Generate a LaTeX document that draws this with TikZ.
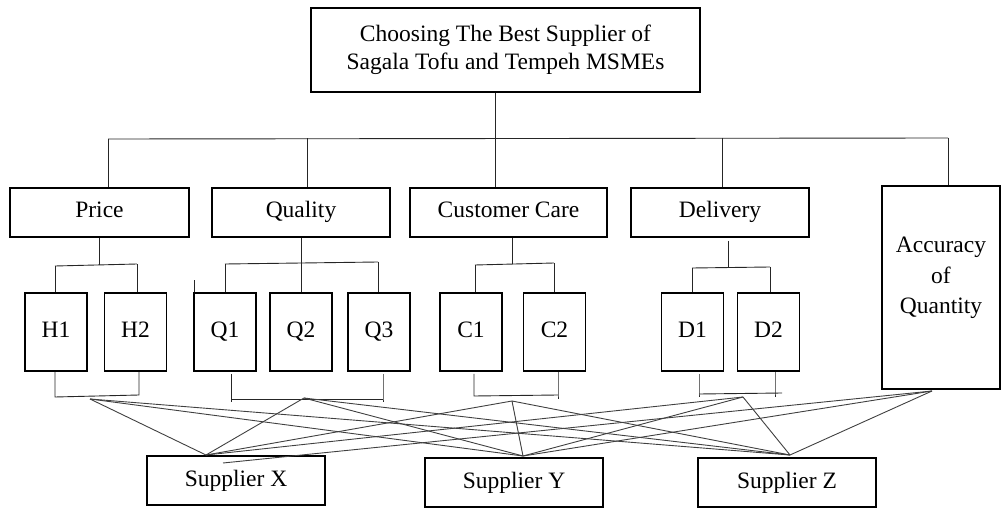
\documentclass[tikz,border=0pt]{standalone}
\usepackage{fontspec}
\setmainfont{Liberation Serif}
\begin{document}
\begin{tikzpicture}[x=1pt,y=-1pt,
  box/.style={draw, line width=1.5pt, inner sep=0pt, font=\fontsize{23.5}{28}\selectfont},
  crit/.style={box, minimum height=49pt, text height=16pt, text depth=5pt},
  sub/.style={box, minimum width=62pt, minimum height=78pt, text height=16pt, text depth=5pt},
  wire/.style={line width=0.9pt, draw=black!85},
  link/.style={line width=0.9pt, draw=black!75}]
\useasboundingbox (0,0) rectangle (1002,508);

% goal
\node[box, align=center, minimum width=389pt, minimum height=84pt] (goal) at (505.5,50) {Choosing The Best Supplier of\\Sagala Tofu and Tempeh MSMEs};

% criteria
\node[crit, minimum width=179pt] (price) at (99.5,212.5) {Price};
\node[crit, minimum width=178pt] (quality) at (301,212.5) {Quality};
\node[crit, minimum width=197pt] (care) at (508.5,212.5) {Customer Care};
\node[crit, minimum width=178pt] (delivery) at (720,212.5) {Delivery};
\node[box, minimum width=118pt, minimum height=203pt] (accuracy) at (941,287.5) {};
\node[font=\fontsize{23.5}{30.5}\selectfont, align=center, inner sep=0pt] (acctext) at (941,278) {Accuracy\\of\\Quantity};

% sub-criteria
\node[sub] (h1) at (56,332) {H1};
\node[sub] (h2) at (135.5,332) {H2};
\node[sub] (q1) at (225,332) {Q1};
\node[sub] (q2) at (301,332) {Q2};
\node[sub] (q3) at (379,332) {Q3};
\node[sub] (c1) at (471,332) {C1};
\node[sub] (c2) at (554.5,332) {C2};
\node[sub] (d1) at (692.5,332) {D1};
\node[sub] (d2) at (768.5,332) {D2};

% alternatives
\node[crit, minimum width=178pt] (sx) at (236,480.5) {Supplier X};
\node[crit, minimum width=178pt] (sy) at (514,482.5) {Supplier Y};
\node[crit, minimum width=178pt] (sz) at (787,482.5) {Supplier Z};

% goal to criteria
\coordinate (bus) at (495,138);
\coordinate (busL) at (108,139);
\coordinate (busR) at (948,138);
\coordinate (pq) at (307,138.5);
\coordinate (pd) at (722,138);
\draw[wire] (goal.south -| bus) -- (bus);
\draw[wire] (busL) -- (busR);
\draw[wire] (busL) -- (busL |- price.north);
\draw[wire] (pq) -- (pq |- quality.north);
\draw[wire] (bus) -- (bus |- care.north);
\draw[wire] (pd) -- (pd |- delivery.north);
\draw[wire] (busR) -- (busR |- accuracy.north);

% criteria to sub-criteria
\coordinate (hb) at (99,265);
\coordinate (hbL) at (55,266);
\coordinate (hbR) at (137,264);
\draw[wire] (hb |- price.south) -- (hb);
\draw[wire] (hbL) -- (hbR);
\draw[wire] (hbL) -- (hbL |- h1.north);
\draw[wire] (hbR) -- (hbR |- h2.north);

\coordinate (qb) at (301,264);
\coordinate (qbL) at (225,264);
\coordinate (qbR) at (378,262);
\draw[wire] (qb |- quality.south) -- (qb |- q2.north);
\draw[wire] (qbL) -- (qbR);
\draw[wire] (qbL) -- (qbL |- q1.north);
\draw[wire] (qbR) -- (qbR |- q3.north);
\coordinate (qtick) at (194,280);
\draw[wire] (qtick) -- (qtick |- q1.north);

\coordinate (cb) at (512,264);
\coordinate (cbL) at (475,265);
\coordinate (cbR) at (554,263);
\draw[wire] (cb |- care.south) -- (cb);
\draw[wire] (cbL) -- (cbR);
\draw[wire] (cbL) -- (cbL |- c1.north);
\draw[wire] (cbR) -- (cbR |- c2.north);

\coordinate (db) at (728,268);
\coordinate (dbL) at (692,268);
\coordinate (dbR) at (770,267);
\draw[wire] (db |- delivery.south) ++(0,3) -- (db);
\draw[wire] (dbL) -- (dbR);
\draw[wire] (dbL) -- (dbL |- d1.north);
\draw[wire] (dbR) -- (dbR |- d2.north);

% sub-criteria brackets below
\coordinate (hu) at (55,397);
\coordinate (hv) at (139,395);
\draw[wire] (hu |- h1.south) -- (hu) -- (hv) -- (hv |- h2.south);
\coordinate (qu) at (231,399);
\coordinate (qv) at (383,399);
\draw[wire] (qu |- q1.south) ++(0,2) -- (qu) -- (qv);
\draw[wire] (qv |- q3.south) ++(0,2) -- (qv) -- ++(0,3);
\draw[wire] (qu) -- ++(0,3);
\coordinate (cu) at (474,396);
\coordinate (cv) at (558,395);
\draw[wire] (cu |- c1.south) ++(0,2) -- (cu) -- (cv);
\draw[wire] (cv |- c2.south) -- (cv) -- ++(0,4);
\coordinate (du) at (699,394);
\coordinate (dv) at (782,393);
\draw[wire] (du |- d1.south) ++(0,2) -- (du) -- ++(0,3);
\draw[wire] (du) -- (dv);
\coordinate (dw) at (775,393);
\draw[wire] (dw |- d2.south) -- (dw) -- ++(0,4);

% links from criteria to alternatives
\coordinate (hS) at (90,399);
\coordinate (qS) at (304,398);
\coordinate (cS) at (512,401);
\coordinate (dS) at (743,397);
\coordinate (aS) at (932,391);
\coordinate (xT) at (206,455);
\coordinate (xT2) at (223,463);
\coordinate (yT) at (523,456);
\coordinate (zT) at (790,455);
\foreach \s in {hS,qS,cS,dS} {
  \draw[link] (\s) -- (xT);
}
\draw[link] (aS) -- (xT2);
\foreach \s in {hS,qS,cS,dS,aS} {
  \draw[link] (\s) -- (yT);
  \draw[link] (\s) -- (zT);
}
\end{tikzpicture}
\end{document}
